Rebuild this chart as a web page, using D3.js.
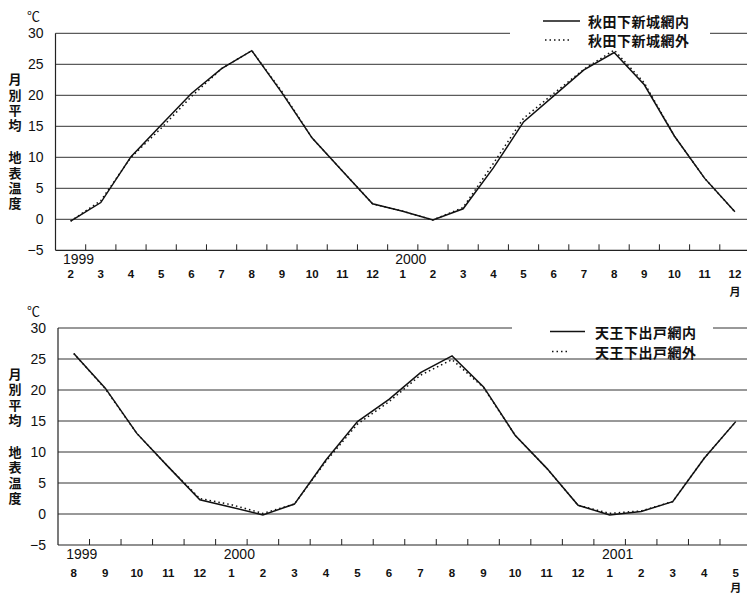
<!DOCTYPE html>
<html>
<head>
<meta charset="utf-8">
<script src="https://cdn.jsdelivr.net/npm/d3@7"></script>
<style>
  body { margin: 0; background: #fff; }
  svg { display: block; }
  text { fill: #111; }
</style>
</head>
<body>
<svg class="chart"></svg>
<script>
// 秋田下新城 (1999-2 .. 2000-12)
var akitaMonths = ["1999-2", "1999-3", "1999-4", "1999-5", "1999-6", "1999-7", "1999-8", "1999-9", "1999-10", "1999-11", "1999-12",
  "2000-1", "2000-2", "2000-3", "2000-4", "2000-5", "2000-6", "2000-7", "2000-8", "2000-9", "2000-10", "2000-11", "2000-12"];
var akitaIn = [-0.3, 2.7, 10.1, 15.2, 20.3, 24.3, 27.2, 20.4, 13.1, 7.8, 2.5,
  1.3, -0.1, 1.7, 8.3, 15.7, 19.9, 24.1, 26.9, 21.7, 13.4, 6.6, 1.2];
var akitaOut = [-0.3, 3.0, 10.0, 14.7, 19.8, 24.3, 27.2, 20.6, 13.1, 7.8, 2.5,
  1.3, -0.1, 1.9, 9.0, 16.3, 20.3, 24.2, 27.3, 22.0, 13.4, 6.6, 1.2];

// 天王下出戸 (1999-8 .. 2001-5)
var tennoMonths = ["1999-8", "1999-9", "1999-10", "1999-11", "1999-12",
  "2000-1", "2000-2", "2000-3", "2000-4", "2000-5", "2000-6", "2000-7", "2000-8", "2000-9", "2000-10", "2000-11", "2000-12",
  "2001-1", "2001-2", "2001-3", "2001-4", "2001-5"];
var tennoIn = [25.9, 20.3, 13.0, 7.6, 2.3,
  1.1, -0.15, 1.6, 8.7, 14.9, 18.5, 22.8, 25.5, 20.5, 12.7, 7.4, 1.4,
  -0.15, 0.4, 2.0, 9.0, 14.9];
var tennoOut = [25.9, 20.2, 13.0, 7.6, 2.5,
  1.5, 0.1, 1.6, 8.5, 14.5, 18.1, 22.4, 24.9, 20.4, 12.7, 7.4, 1.4,
  0.1, 0.5, 2.0, 9.0, 14.9];

var yTicks = [-5, 0, 5, 10, 15, 20, 25, 30];
// vertical y title, printed in two groups
var yTitle = ["月別平均", "地表温度"];

var width = 747, height = 594;
var numFont = "'Liberation Sans', Arial, sans-serif";
var cjkFont = "'Noto Sans CJK JP', sans-serif";

var chart = d3.select(".chart")
  .attr("width", width)
  .attr("height", height);

panel({
  months: akitaMonths, inside: akitaIn, outside: akitaOut,
  names: ["秋田下新城網内", "秋田下新城網外"],
  left: 55.5, right: 750, top: 33.3, bottom: 250.3,
  yearDy: 8.5, monthDy: 24, unitDy: 41,
  legend: { x0: 510, x1: 710, b0: 12, b1: 48, y1: 21, y2: 40, lineX: 543, lineW: 37, dotX: 545, dotW: 25, textX: 588 }
});

panel({
  months: tennoMonths, inside: tennoIn, outside: tennoOut,
  names: ["天王下出戸網内", "天王下出戸網外"],
  left: 58, right: 751.5, top: 328, bottom: 545,
  yearDy: 9, monthDy: 28, unitDy: 42,
  legend: { x0: 512, x1: 713, b0: 320, b1: 344, y1: 331.5, y2: 351.5, lineX: 550, lineW: 35, dotX: 552, dotW: 17, textX: 595 }
});

function panel(cfg) {
  var x = d3.scaleBand()
    .domain(cfg.months)
    .range([cfg.left, cfg.right]);
  var y = d3.scaleLinear()
    .domain([-5, 30])
    .range([cfg.bottom, cfg.top]);
  var g = chart.append("g");

  /* grid */
  g.selectAll(".grid")
    .data(yTicks.filter(function (d) { return d > -5; }))
    .enter().append("line")
    .attr("x1", cfg.left).attr("x2", width)
    .attr("y1", function (d) { return y(d); })
    .attr("y2", function (d) { return y(d); })
    .attr("stroke", "#333").attr("stroke-width", 1);

  /* axes lines */
  g.append("line")
    .attr("x1", cfg.left).attr("x2", cfg.left)
    .attr("y1", y(30)).attr("y2", y(-5))
    .attr("stroke", "#222").attr("stroke-width", 1.2);
  g.append("line")
    .attr("x1", cfg.left).attr("x2", width)
    .attr("y1", y(-5)).attr("y2", y(-5))
    .attr("stroke", "#222").attr("stroke-width", 1.2);

  // ticks between months, pointing up
  g.selectAll(".tick-m")
    .data(cfg.months.slice(1))
    .enter().append("line")
    .attr("x1", function (d) { return x(d); })
    .attr("x2", function (d) { return x(d); })
    .attr("y1", y(-5)).attr("y2", y(-5) - 6)
    .attr("stroke", "#222").attr("stroke-width", 1);

  var yAxis = d3.axisLeft(y).tickValues(yTicks).tickSize(0).tickPadding(12);
  var ya = g.append("g")
    .attr("transform", "translate(" + cfg.left + ",0)")
    .call(yAxis);
  ya.select(".domain").remove();
  ya.selectAll("text")
    .attr("font-family", numFont)
    .attr("font-size", 14)
    .attr("fill", "#111");

  g.append("text")
    .attr("x", 27).attr("y", cfg.top - 18)
    .attr("dominant-baseline", "central")
    .attr("font-family", cjkFont)
    .attr("font-size", 13)
    .text("℃");

  var titleY = [39.5, 117.5];
  g.selectAll(".ytitle")
    .data(yTitle)
    .enter().append("text")
    .attr("x", 15)
    .attr("y", function (d, i) { return cfg.top + titleY[i]; })
    .style("writing-mode", "vertical-rl")
    .attr("font-family", cjkFont)
    .attr("font-weight", "bold")
    .attr("font-size", 13)
    .attr("letter-spacing", 2.4)
    .text(function (d) { return d; });

  /* month and year labels */
  var bw = x.bandwidth();
  g.selectAll(".mlabel")
    .data(cfg.months)
    .enter().append("text")
    .attr("x", function (d) { return x(d) + bw / 2; })
    .attr("y", y(-5) + cfg.monthDy)
    .attr("text-anchor", "middle")
    .attr("dominant-baseline", "central")
    .attr("font-family", numFont)
    .attr("font-weight", "bold")
    .attr("font-size", 11.5)
    .text(function (d) { return d.split("-")[1]; });

  g.selectAll(".ylabel")
    .data(cfg.months.filter(function (d, i) { return i == 0 || d.split("-")[1] == "1"; }))
    .enter().append("text")
    .attr("x", function (d) { return x(d) + bw / 2 + 8; })
    .attr("y", y(-5) + cfg.yearDy)
    .attr("text-anchor", "middle")
    .attr("dominant-baseline", "central")
    .attr("font-family", numFont)
    .attr("font-size", 14)
    .text(function (d) { return d.split("-")[0]; });

  var last = cfg.months[cfg.months.length - 1];
  g.append("text")
    .attr("x", x(last) + bw / 2)
    .attr("y", y(-5) + cfg.unitDy)
    .attr("text-anchor", "middle")
    .attr("dominant-baseline", "central")
    .attr("font-family", cjkFont)
    .attr("font-weight", "bold")
    .attr("font-size", 11)
    .text("月");

  /* lines */
  var line = d3.line()
    .x(function (d, i) { return x(cfg.months[i]) + bw / 2; })
    .y(function (d) { return y(d); });

  g.append("path")
    .datum(cfg.outside)
    .attr("d", line)
    .attr("fill", "none")
    .attr("stroke", "#111")
    .attr("stroke-width", 1.5)
    .attr("stroke-dasharray", "1.5,3");

  g.append("path")
    .datum(cfg.inside)
    .attr("d", line)
    .attr("fill", "none")
    .attr("stroke", "#111")
    .attr("stroke-width", 1.5);

  /* legend */
  var lg = cfg.legend;
  g.append("rect")
    .attr("x", lg.x0).attr("y", lg.b0)
    .attr("width", lg.x1 - lg.x0).attr("height", lg.b1 - lg.b0)
    .attr("fill", "#fff");
  g.append("line")
    .attr("x1", lg.lineX).attr("x2", lg.lineX + lg.lineW)
    .attr("y1", lg.y1).attr("y2", lg.y1)
    .attr("stroke", "#111").attr("stroke-width", 1.5);
  g.append("line")
    .attr("x1", lg.dotX).attr("x2", lg.dotX + lg.dotW)
    .attr("y1", lg.y2).attr("y2", lg.y2)
    .attr("stroke", "#111").attr("stroke-width", 1.5)
    .attr("stroke-dasharray", "1.5,3");
  g.selectAll(".lgtext")
    .data(cfg.names)
    .enter().append("text")
    .attr("x", lg.textX)
    .attr("y", function (d, i) { return i == 0 ? lg.y1 : lg.y2; })
    .attr("dominant-baseline", "central")
    .attr("font-family", cjkFont)
    .attr("font-weight", "bold")
    .attr("font-size", 14)
    .attr("letter-spacing", 0.5)
    .text(function (d) { return d; });
}
</script>
</body>
</html>
